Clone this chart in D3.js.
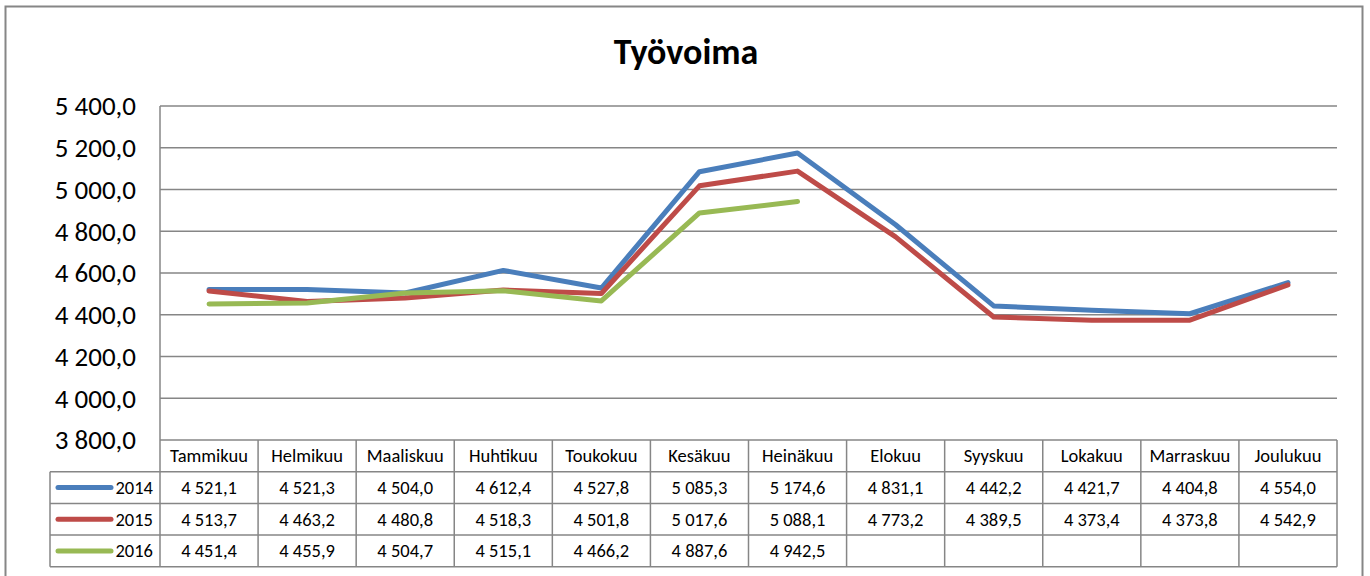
<!DOCTYPE html>
<meta charset="utf-8">
<style>
body { margin: 0; background: #fff; }
text { font-family: Carlito, "Open Sans", sans-serif; fill: #000; }
</style>
<svg width="1370" height="576"></svg>
<script src="https://cdn.jsdelivr.net/npm/d3@7"></script>
<script>

var months = ["Tammikuu", "Helmikuu", "Maaliskuu", "Huhtikuu", "Toukokuu", "Kesäkuu",
              "Heinäkuu", "Elokuu", "Syyskuu", "Lokakuu", "Marraskuu", "Joulukuu"];
var years = ["2014", "2015", "2016"];
var v2014 = [4521.1, 4521.3, 4504.0, 4612.4, 4527.8, 5085.3, 5174.6, 4831.1, 4442.2, 4421.7, 4404.8, 4554.0];
var v2015 = [4513.7, 4463.2, 4480.8, 4518.3, 4501.8, 5017.6, 5088.1, 4773.2, 4389.5, 4373.4, 4373.8, 4542.9];
var v2016 = [4451.4, 4455.9, 4504.7, 4515.1, 4466.2, 4887.6, 4942.5, null, null, null, null, null];
var yTicks = [3800, 4000, 4200, 4400, 4600, 4800, 5000, 5200, 5400];
var colors = ["#4a7ebb", "#be4b48", "#98b954"];

var series = [v2014, v2015, v2016];

var fi = d3.formatLocale({decimal: ",", thousands: "\u00a0", grouping: [3], currency: ["", ""]});
var fmt = fi.format(",.1f");

var svg = d3.select("svg");
var plot = {left: 160, right: 1337, top: 106, bottom: 440};
var rowH = 31.7;

// outer frame
svg.append("rect").attr("x", 5.5).attr("y", 6.5).attr("width", 1357).attr("height", 580)
  .attr("fill", "none").attr("stroke", "#868686").attr("stroke-width", 2);

svg.append("text").attr("x", 686).attr("y", 64).attr("text-anchor", "middle")
  .style("font-size", "36px").style("font-weight", "bold").text("Työvoima");

var x = d3.scaleBand().domain(months).range([plot.left, plot.right]);
var y = d3.scaleLinear().domain([3800, 5400]).range([plot.bottom, plot.top]);

// gridlines
svg.append("g").selectAll("line").data(yTicks).enter().append("line")
  .attr("x1", plot.left).attr("x2", plot.right)
  .attr("y1", function(d) { return y(d); }).attr("y2", function(d) { return y(d); })
  .attr("stroke", "#868686").attr("stroke-width", 1.5);

svg.append("line").attr("x1", plot.left).attr("x2", plot.left)
  .attr("y1", plot.top).attr("y2", plot.bottom + rowH * 4)
  .attr("stroke", "#868686").attr("stroke-width", 1.5);

// y axis labels
svg.append("g").selectAll("text").data(yTicks).enter().append("text")
  .attr("x", 136).attr("y", function(d) { return y(d); }).attr("dy", "0.35em")
  .attr("text-anchor", "end").style("font-size", "27px")
  .text(function(d) { return fmt(d); });

// lines
var line = d3.line()
  .defined(function(d) { return d != null; })
  .x(function(d, i) { return x(months[i]) + x.bandwidth() / 2; })
  .y(function(d) { return y(d); });

svg.append("g").selectAll("path").data(series).enter().append("path")
  .attr("d", line).attr("fill", "none")
  .attr("stroke", function(d, i) { return colors[i]; })
  .attr("stroke-width", 5).attr("stroke-linejoin", "round").attr("stroke-linecap", "round");

// data table
var tbl = svg.append("g");
var tTop = plot.bottom;
var legLeft = 50;
var gridColor = "#868686";
var fs = "18.5px";

// horizontal lines
for (var r = 1; r <= 4; r++) {
  tbl.append("line").attr("x1", legLeft).attr("x2", plot.right)
    .attr("y1", tTop + r * rowH).attr("y2", tTop + r * rowH)
    .attr("stroke", gridColor).attr("stroke-width", 1.5);
}
// vertical lines
months.forEach(function(m) {
  tbl.append("line").attr("x1", x(m) + x.bandwidth()).attr("x2", x(m) + x.bandwidth())
    .attr("y1", tTop).attr("y2", tTop + rowH * 4)
    .attr("stroke", gridColor).attr("stroke-width", 1.5);
});
tbl.append("line").attr("x1", legLeft).attr("x2", legLeft)
  .attr("y1", tTop + rowH).attr("y2", tTop + rowH * 4)
  .attr("stroke", gridColor).attr("stroke-width", 1.5);

// header
tbl.selectAll("text.h").data(months).enter().append("text")
  .attr("x", function(d) { return x(d) + x.bandwidth() / 2; })
  .attr("y", tTop + rowH / 2).attr("dy", "0.35em")
  .attr("text-anchor", "middle").style("font-size", fs)
  .text(function(d) { return d; });

series.forEach(function(s, si) {
  var cy = tTop + rowH * (si + 1) + rowH / 2;
  tbl.append("line").attr("x1", 58).attr("x2", 111).attr("y1", cy).attr("y2", cy)
    .attr("stroke", colors[si]).attr("stroke-width", 5).attr("stroke-linecap", "round");
  tbl.append("text").attr("x", 153).attr("y", cy).attr("dy", "0.35em")
    .attr("text-anchor", "end").style("font-size", fs).text(years[si]);
  tbl.append("g").selectAll("text").data(s).enter().append("text")
    .attr("x", function(d, i) { return x(months[i]) + x.bandwidth() / 2; })
    .attr("y", cy).attr("dy", "0.35em")
    .attr("text-anchor", "middle").style("font-size", fs)
    .text(function(d) { return d == null ? "" : fmt(d); });
});

</script>
